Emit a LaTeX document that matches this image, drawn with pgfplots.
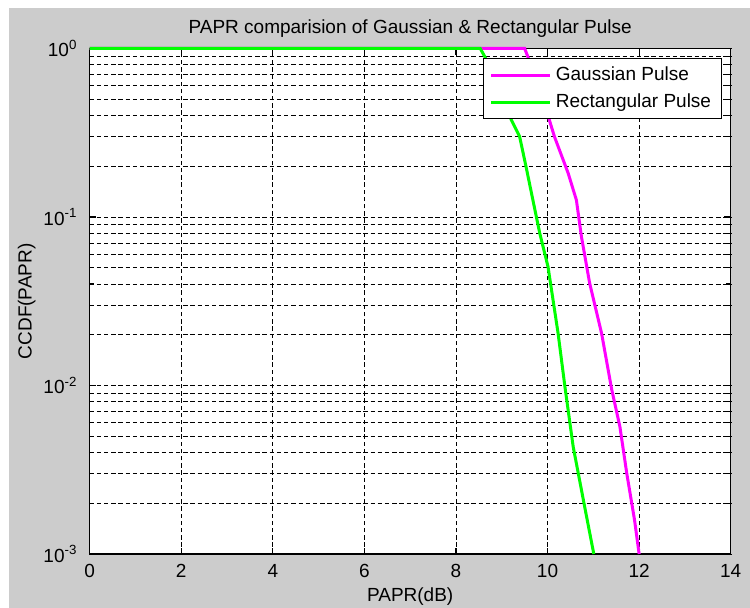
\documentclass[border=0pt]{standalone}
\usepackage{pgfplots}
\pgfplotsset{compat=1.18}
\usepackage{fontspec}
\setmainfont{Liberation Sans}

\definecolor{figgray}{RGB}{204,204,204}
\definecolor{gausscol}{RGB}{255,0,255}
\definecolor{rectcol}{RGB}{0,255,0}
\newcommand{\mfont}{\fontsize{9.5}{11}\selectfont}

\begin{document}
\begin{tikzpicture}
% figure area (matlab grey with a thin white strip top/left)
\useasboundingbox (-44.85pt,-27pt) rectangle (330.15pt,277pt);
\fill[white] (-44.85pt,-27pt) rectangle (330.15pt,277pt);
\fill[figgray] (-40.35pt,-27pt) rectangle (330.15pt,273pt);
\begin{axis}[
    scale only axis,
    width=320.5pt,
    height=252.75pt,
    ymode=log,
    xmin=0, xmax=14,
    ymin=1e-3, ymax=1,
    xtick={0,2,...,14},
    ytick={1e-3,1e-2,1e-1,1},
    yticklabels={10\textsuperscript{-3},10\textsuperscript{-2},10\textsuperscript{-1},10\textsuperscript{0}},
    minor ytick={2e-3,3e-3,4e-3,5e-3,6e-3,7e-3,8e-3,9e-3,
                 2e-2,3e-2,4e-2,5e-2,6e-2,7e-2,8e-2,9e-2,
                 2e-1,3e-1,4e-1,5e-1,6e-1,7e-1,8e-1,9e-1},
    /pgf/number format/assume math mode=true,
    tick pos=both,
    tick align=inside,
    major tick length=3.2pt,
    minor tick length=2.2pt,
    tick style={black, line width=0.6pt},
    axis line style={black, line width=0.7pt},
    axis background/.style={fill=white},
    xmajorgrids, ymajorgrids, yminorgrids,
    major grid style={black, line width=0.45pt, dash pattern=on 2.2pt off 1.4pt},
    minor grid style={black, line width=0.45pt, dash pattern=on 2.2pt off 1.4pt},
    clip=false,
    every tick label/.append style={font=\mfont},
    xticklabel style={anchor=base, yshift=-12pt},
    yticklabel style={anchor=east, xshift=-2.6pt},
    title={PAPR comparision of Gaussian \& Rectangular Pulse},
    title style={font=\mfont, at={(0.5,1)}, anchor=base, yshift=1.5pt},
    xlabel={PAPR(dB)},
    xlabel style={font=\mfont, at={(0.5,0)}, anchor=base, yshift=-24pt},
    ylabel={CCDF(PAPR)},
    ylabel style={font=\mfont, at={(-0.0983,0.5)}, anchor=center},
    legend style={at={(1,1)}, anchor=north east, xshift=-4.5pt, yshift=-4.9pt,
        draw=black, line width=0.6pt, fill=white, font=\mfont,
        row sep=1pt, inner xsep=3pt, inner ysep=2pt},
    legend cell align=left,
    legend image code/.code={\draw[#1] (0pt,0pt) -- (29.5pt,0pt);},
]
\addplot[gausscol, line width=1.5pt] coordinates {
    (0,1) (9.50,1) (9.57,0.894) (10.04,0.376) (10.15,0.300)
    (10.45,0.182) (10.63,0.126) (10.74,0.0764) (10.92,0.0404)
    (11.18,0.0204) (11.40,0.0095) (11.58,0.0057) (11.73,0.00301)
    (11.90,0.00159) (12.00,0.001)
};
\addplot[rectcol, line width=1.5pt] coordinates {
    (0,1) (8.53,1) (8.63,0.894) (9.21,0.376) (9.39,0.300)
    (9.53,0.199) (9.68,0.126) (9.83,0.080) (10.01,0.0507)
    (10.23,0.0204) (10.38,0.0098) (10.56,0.00433) (10.81,0.00191)
    (11.01,0.001)
};
\legend{Gaussian Pulse,Rectangular Pulse}
\end{axis}
\end{tikzpicture}
\end{document}
